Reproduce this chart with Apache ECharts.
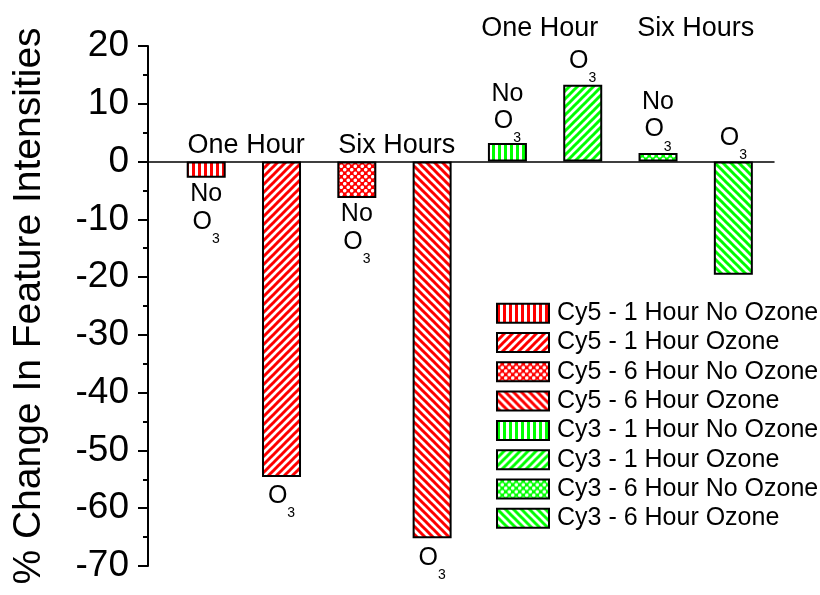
<!DOCTYPE html>
<html>
<head>
<meta charset="utf-8">
<script src="https://cdn.jsdelivr.net/npm/echarts@6/dist/echarts.min.js"></script>
<style>
html,body{margin:0;padding:0;background:#fff;}
#chart{width:820px;height:595px;}
</style>
</head>
<body>
<div id="chart"></div>
<script>
// bar series, one bar each
var seriesNames=["Cy5 - 1 Hour No Ozone","Cy5 - 1 Hour Ozone","Cy5 - 6 Hour No Ozone","Cy5 - 6 Hour Ozone",
                 "Cy3 - 1 Hour No Ozone","Cy3 - 1 Hour Ozone","Cy3 - 6 Hour No Ozone","Cy3 - 6 Hour Ozone"];
var barPos=[1,2,3,4,5,6,7,8];
var barValues=[-2.8,-54.6,-6.3,-65.2,3.2,13.3,1.5,-19.6];
var barNotes=["No O3","O3","No O3","O3","No O3","O3","No O3","O3"];

// group captions (in data units)
var groupNames=["One Hour","Six Hours","One Hour","Six Hours"];
var groupX=[1.53,3.53,5.43,7.50];
var groupY=[2.8,2.8,23,23];

// look of each bar
var barLook=[
  {kind:"vert",color:"#ff0000",side:"bottom",gap:1.6},
  {kind:"slash",color:"#ff0000",side:"bottom",gap:6.7},
  {kind:"dots",color:"#ff0000",side:"bottom",gap:1.6},
  {kind:"back",color:"#ff0000",side:"bottom",gap:7.3},
  {kind:"vert",color:"#00ff00",side:"top",gap:4.3},
  {kind:"slash",color:"#00ff00",side:"top",gap:6.5},
  {kind:"dots",color:"#00ff00",side:"top",gap:6},
  {kind:"back",color:"#00ff00",side:"top",gap:6.3}
];

var FONT="'Liberation Sans', Arial, sans-serif";

function makePattern(kind,color){
  var c=document.createElement("canvas");
  var s=(kind=="vert")?6:(kind=="dots"?7:8);
  c.width=s;c.height=s;
  var ctx=c.getContext("2d");
  ctx.fillStyle="#fff";
  ctx.fillRect(0,0,s,s);
  if(kind=="vert"){
    ctx.fillStyle=color;
    ctx.fillRect(0,0,3,s);
  }
  else if(kind=="dots"){
    ctx.fillStyle=color;
    ctx.fillRect(0,0,s,s);
    ctx.fillStyle="#fff";
    [[1.75,1.75],[5.25,5.25]].forEach(function(p){
      ctx.beginPath();ctx.arc(p[0],p[1],1.8,0,Math.PI*2);ctx.fill();
    });
  }
  else{
    ctx.strokeStyle=color;
    ctx.lineWidth=3;
    var segs=(kind=="slash")?
      [[-1,s+1,s+1,-1],[-1,1,1,-1],[s-1,s+1,s+1,s-1]]:
      [[-1,-1,s+1,s+1],[-1,s-1,1,s+1],[s-1,-1,s+1,1]];
    segs.forEach(function(l){
      ctx.beginPath();ctx.moveTo(l[0],l[1]);ctx.lineTo(l[2],l[3]);ctx.stroke();
    });
  }
  return {image:c,repeat:"repeat"};
}

function noteText(t){
  var out=[];
  t.split(" ").forEach(function(p){
    if(p=="O3")out.push("{o|O}{s|3}");
    else out.push("{n|"+p+"}");
  });
  return out.join("\n");
}

var chart=echarts.init(document.getElementById("chart"),null,{renderer:"canvas"});

var series=seriesNames.map(function(name,i){
  var look=barLook[i];
  return {
    name:name,
    type:"bar",
    barWidth:39,
    barGap:"-100%",
    data:[[barPos[i],barValues[i]]],
    itemStyle:{color:makePattern(look.kind,look.color),borderColor:"#000",borderWidth:2},
    emphasis:{disabled:true},
    label:{
      show:true,
      position:look.side,
      distance:look.gap,
      formatter:function(){return noteText(barNotes[i]);},
      color:"#000",
      fontFamily:FONT,
      rich:{
        n:{fontSize:25,lineHeight:30,color:"#000",fontFamily:FONT},
        o:{fontSize:25,lineHeight:30,verticalAlign:"top",color:"#000",fontFamily:FONT},
        s:{fontSize:14,lineHeight:14,padding:[22.8,0,0,0],verticalAlign:"top",color:"#000",fontFamily:FONT}
      }
    }
  };
});

series.push({
  name:"groups",
  type:"scatter",
  symbolSize:1,
  clip:false,
  silent:true,
  itemStyle:{color:"rgba(0,0,0,0)",opacity:1},
  data:groupX.map(function(x,k){return [x,groupY[k],groupNames[k]];}),
  label:{
    show:true,
    position:"inside",
    formatter:function(p){return p.data[2];},
    fontSize:27,
    color:"#000",
    opacity:1,
    textBorderWidth:0,
    fontFamily:FONT
  },
  emphasis:{disabled:true}
});

var option={
  animation:false,
  textStyle:{fontFamily:FONT,color:"#000"},
  grid:{left:148,right:46,top:46,bottom:29},
  legend:{
    data:seriesNames,
    orient:"vertical",
    icon:"rect",
    left:496,
    top:300.7,
    padding:0,
    itemWidth:52,
    itemHeight:19,
    itemGap:4.3,
    selectedMode:false,
    itemStyle:{borderColor:"#000",borderWidth:2},
    textStyle:{fontSize:25,lineHeight:25,color:"#000",fontFamily:FONT,padding:[0,0,0,3]}
  },
  xAxis:{
    type:"value",
    min:0.227,
    max:8.54,
    axisLine:{show:true,onZero:true,lineStyle:{color:"#000",width:1.5}},
    axisTick:{show:false},
    axisLabel:{show:false},
    splitLine:{show:false}
  },
  yAxis:{
    type:"value",
    min:-70,
    max:20,
    interval:10,
    name:"% Change In Feature Intensities",
    nameLocation:"middle",
    nameGap:99,
    nameTextStyle:{fontSize:39,color:"#000",fontFamily:FONT},
    axisLine:{show:true,lineStyle:{color:"#000",width:2}},
    axisTick:{show:true,length:10,lineStyle:{color:"#000",width:2}},
    minorTick:{show:true,splitNumber:2,length:5,lineStyle:{color:"#000",width:2}},
    splitLine:{show:false},
    axisLabel:{fontSize:37,color:"#000",margin:19,fontFamily:FONT}
  },
  series:series
};

chart.setOption(option);
</script>
</body>
</html>
